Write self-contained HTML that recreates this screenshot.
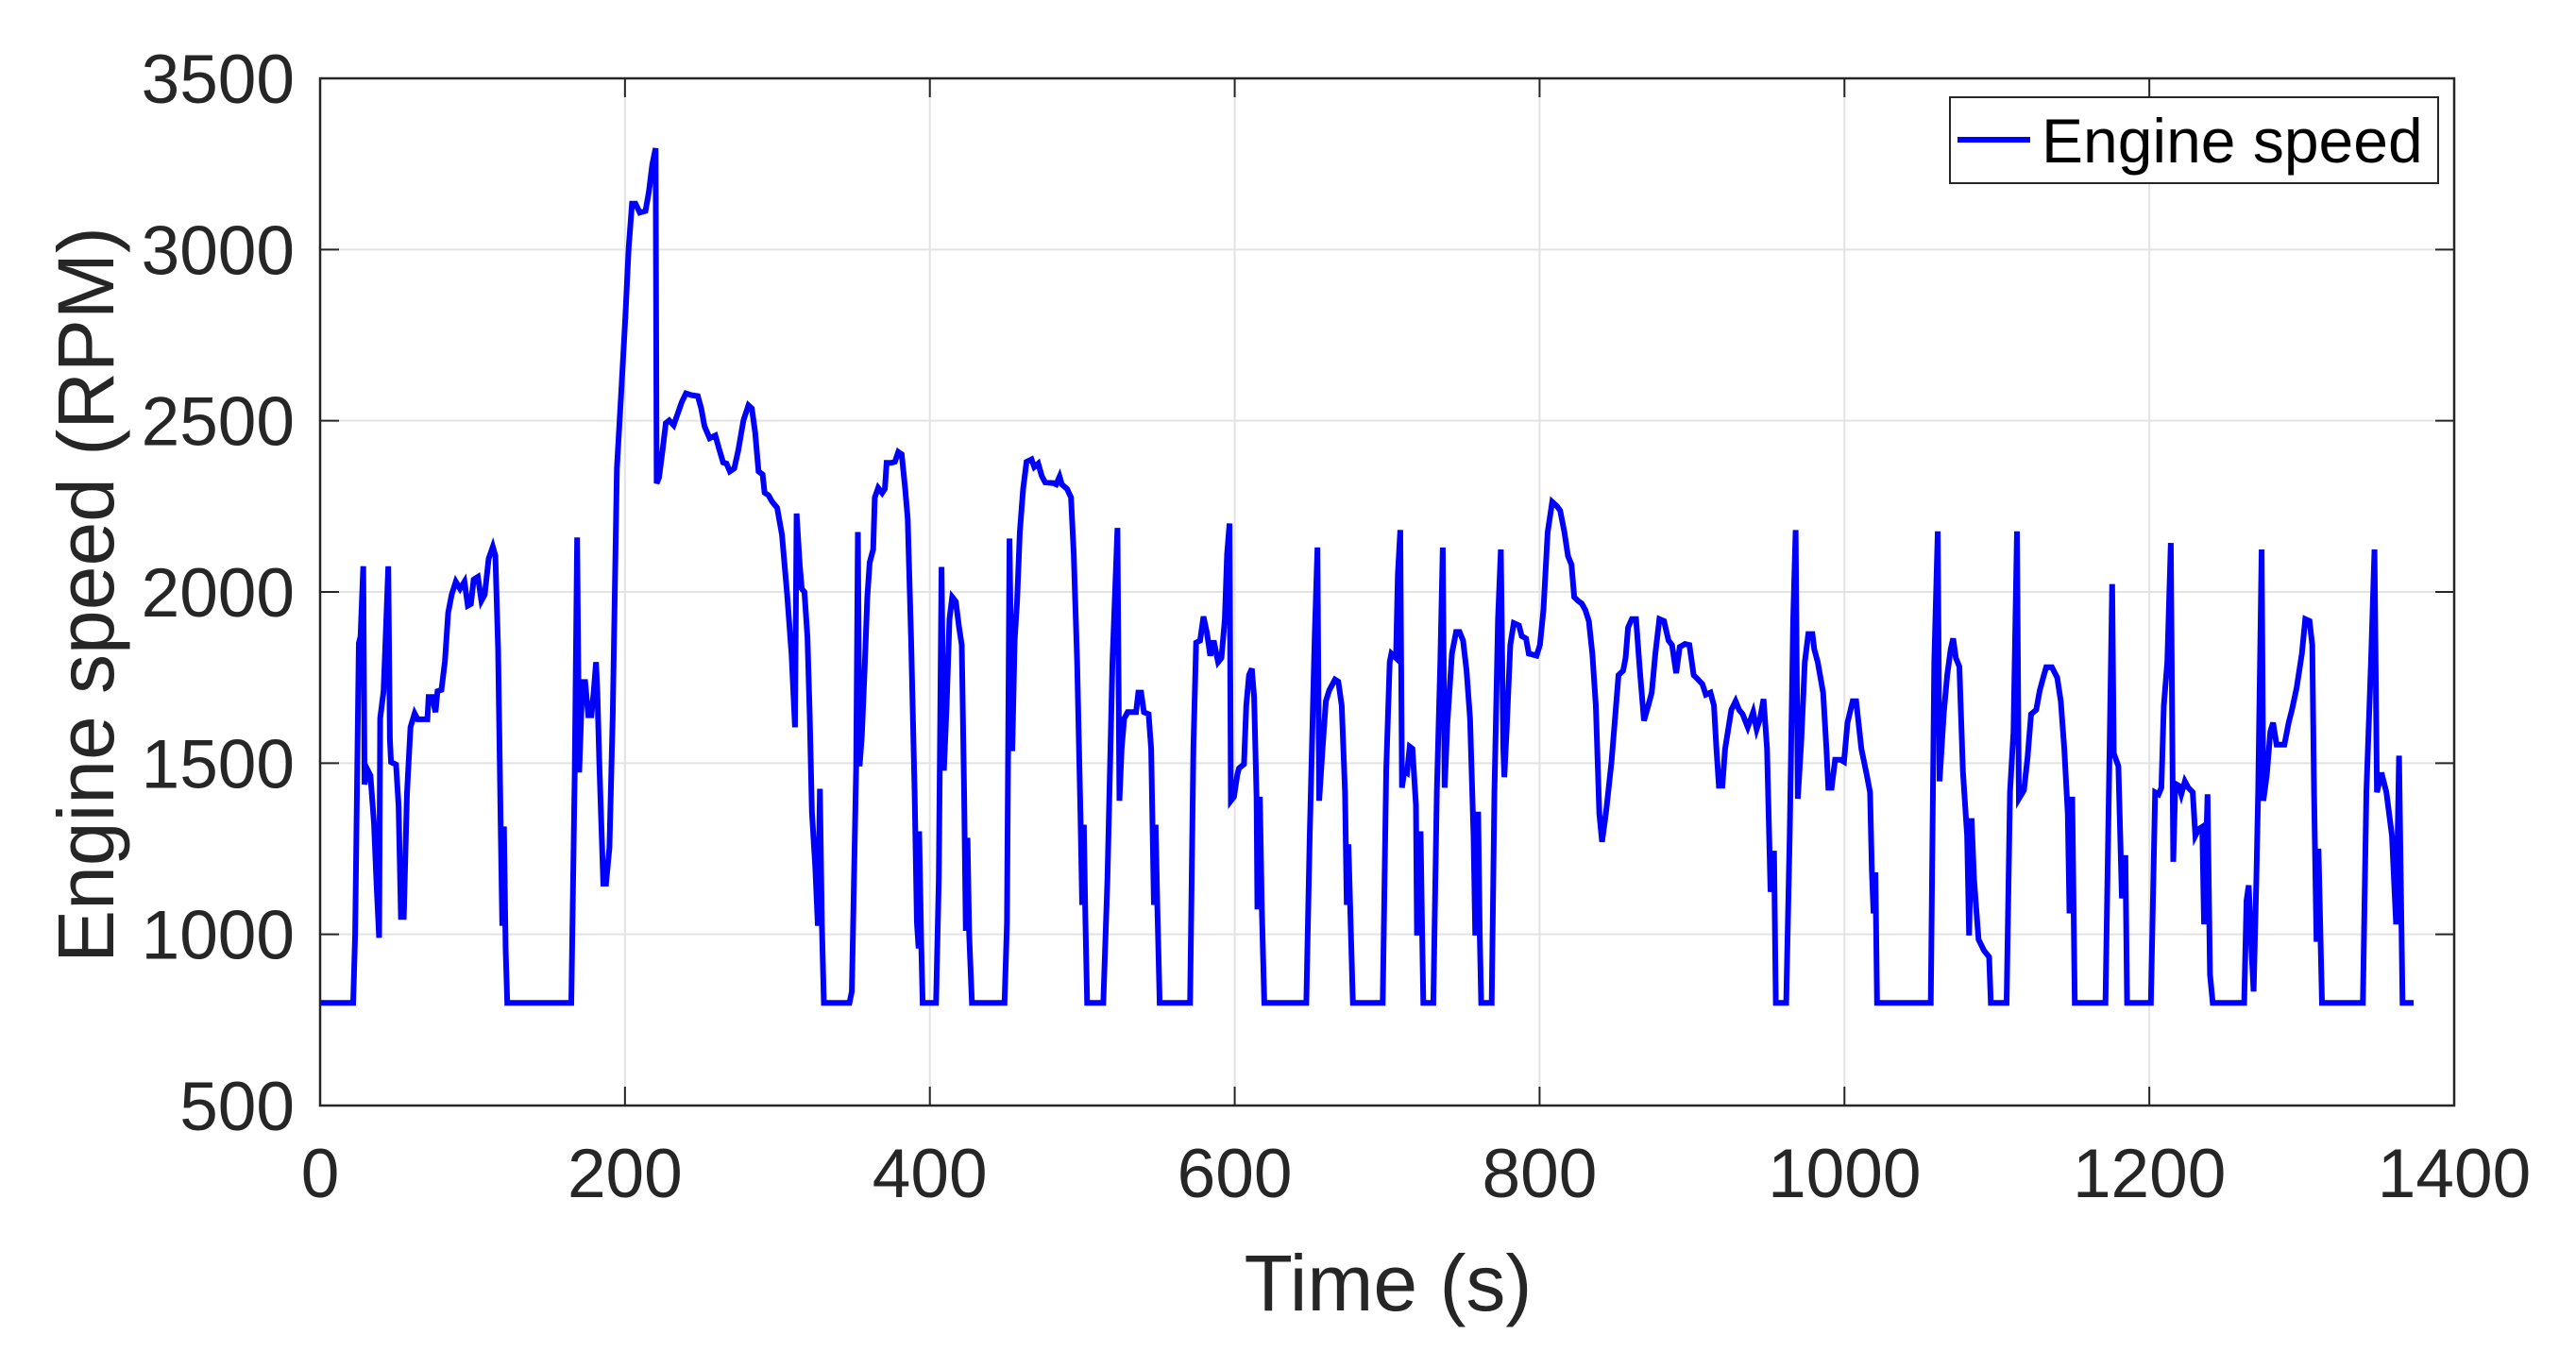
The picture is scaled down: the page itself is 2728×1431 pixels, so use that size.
<!DOCTYPE html>
<html><head><meta charset="utf-8"><style>
html,body{margin:0;padding:0;background:#fff;}
svg{display:block;font-family:"Liberation Sans",Arial,sans-serif;}
</style></head><body>
<svg id="chart" width="2728" height="1431" viewBox="0 0 2728 1431" xmlns="http://www.w3.org/2000/svg">
<rect x="0" y="0" width="2728" height="1431" fill="#fff"/>
<g id="grid"></g>
<g id="series"></g>
<g id="axes"></g>
<text x="0" y="0" transform="translate(120,630) rotate(-90)" text-anchor="middle" font-size="84" fill="#262626">Engine speed (RPM)</text>
<text x="1470" y="1388" text-anchor="middle" font-size="84" fill="#262626">Time (s)</text>
<g>
<rect x="2065" y="103" width="517" height="91" fill="#fff" stroke="#262626" stroke-width="2"/>
<line x1="2073" y1="148" x2="2150" y2="148" stroke="#0000ff" stroke-width="6"/>
<text x="2162" y="172" font-size="66" fill="#000">Engine speed</text>
</g>
</svg>
<script>
const xTicks = [0,200,400,600,800,1000,1200,1400];
const yTicks = [500,1000,1500,2000,2500,3000,3500];
const times = [0,21.7,23,25.4,26.5,28.3,29.2,31,33,35.4,37,38.7,39.4,41.6,43,44.7,45.8,46.5,49.8,51.5,53,54.9,57,59.3,62,64,70.4,71.2,73.5,75.7,77,79.6,81.9,84,86.3,89,91.8,94.7,96.9,98.9,100.7,103.5,105.8,108,110.6,113.3,115,116.8,118.4,119.5,120.6,121.7,122.8,
164.8,167,168.6,170,172,173.9,175.9,178,179.5,181,181.9,183.2,185.8,187.6,189.8,192,194.7,197.6,200.2,202.4,204.6,206.9,209.7,213.5,215.7,217.9,220.1,220.8,222.3,224.6,226.8,229,231.9,234.5,237.2,240,243.4,247.8,250,252.2,255.5,259.3,261.5,264.4,266.6,268.8,271.7,274.3,277.7,281,283.2,285.4,287.6,290.3,291.6,294.2,296.5,299.8,303,306.4,309.3,311.5,312.6,314.6,316,317.7,319.7,321.2,322.6,324.8,326.5,327.9,329.2,330.5,
347.3,348.8,351.7,352.8,353.9,355.4,357.2,359,360.5,362.8,363.9,366.1,368.7,370.5,371.6,374.5,377.1,379.3,381.5,383.8,385.5,387.7,390,391.5,392.6,393,394.4,395.3,
404.1,405.9,407.7,409.2,411,412.9,414.7,417,419.2,420.9,422.5,423.6,424.7,425.8,427.6,
449,450.6,452.3,454.1,455.6,457.2,459,461.2,463.4,466.7,468.5,471.1,473.4,475.6,481.1,482.9,485.1,486.6,490,492.6,494.4,496.6,498.8,499.9,501,502.1,503.2,
513.8,516.5,519.8,523.1,524.4,525.8,527.5,529.8,535.3,536.8,538.6,540.4,543.5,545.2,547,548.1,549.2,550.8,
570.7,572.9,574.7,577.3,579.5,581.7,584,586.2,589.1,591.3,593.5,595,596.6,597.5,599.5,601.7,602.8,606.1,607.6,609.4,611.2,612.7,614.3,614.9,616.5,617.8,619.4,
647,649.2,652.5,654.3,655.4,657.6,659.8,662,665.8,668,670.2,672.4,673.5,674.6,675.7,677.5,
697.1,699.4,701.7,702.8,705.8,707,708.6,709.7,711.3,713.1,714.8,716.6,718.9,719.6,721.9,723,723.7,
730.3,732.6,734.9,736.5,737.7,739.5,742.5,745.2,747.5,749.8,752.1,754.4,756.7,757.8,759.7,760.8,761.7,
768.6,770.4,772.7,774.6,776.2,776.9,778.5,780.8,783.1,786.5,788.3,791.1,792.9,798,800.2,802.5,805.3,808.3,811.3,813.5,816.3,818.6,820.9,822.7,825,827.7,830,832.3,834.6,836.9,839.2,841,843.8,847.2,849.5,851.8,854.8,856.4,858,860.5,863.3,865.6,868.5,871.3,873.6,875.9,878.6,881.6,884.6,886.9,889.6,891.9,895.4,898.3,901.1,903.4,906.8,909.1,912.1,914.4,916,917.6,919.9,921.7,923.5,925.8,928.6,930.9,933.2,936.6,940.1,942.4,944.6,946.9,949.2,951.5,953.8,955,
961.8,964.1,966.4,968,969.4,971.7,974,976.3,979,980.2,982.5,986,988.2,989.4,991.6,993.9,997.4,999.7,1002,1005.4,1007.7,1011.1,1014.6,1016.8,1018,1019.1,1020.3,1021.4,
1056.6,1058.9,1061.2,1062.4,1065.1,1067.4,1069.7,1071.3,1073.1,1075.4,1077.7,1080.5,1081.8,1083.4,1085,1088,1091.5,1094.9,1096,
1106.4,1108.6,1110.9,1113.2,1114.4,1117.8,1120.1,1122.4,1125.8,1128.1,1130.4,1132.3,1136.1,1139.6,1141.9,1144.2,1146.5,1147.6,1149.4,1151.1,
1171.2,1174,1175.6,1176.7,1179.7,1182,1184.3,1185.4,
1201,1203.8,1206.1,1207.9,1209.5,1211.8,1214.1,1215.7,1217.1,1219.4,1221,1223.3,1225.6,1228.5,1230.2,1232.4,1234.7,1235.9,1238.2,1239.8,1241.6,
1262.2,1263.8,1265.2,1266.8,1268.4,1270.2,1271.4,1273.7,1274.8,1277.1,1279.4,1281.2,1283.5,1288.6,1291.4,1293.6,1296.6,1300.1,1302.3,1305.1,1306.9,1308.1,1309.7,1311,1313.3,
1340.1,1342.4,1345.4,1347.7,1349.3,1352.3,1355.5,1359.2,1361.9,1363.8,1366.1,1373.4];
const rpm = [800,800,1000,1850,1870,2075,1438,1482,1464,1323,1150,990,1631,1710,1868,2075,1570,1503,1496,1376,1051,1051,1411,1605,1645,1628,1628,1693,1693,1649,1710,1714,1798,1939,1992,2030,2009,2030,1960,1965,2036,2044,1974,1992,2097,2132,2106,1833,1341,1025,1315,954,800,
800,1464,2159,1473,1737,1737,1640,1640,1710,1795,1710,1499,1148,1148,1253,1640,2361,2589,2800,3002,3134,3134,3108,3113,3169,3249,3296,2317,2334,2413,2493,2501,2487,2519,2554,2580,2575,2572,2536,2484,2449,2457,2422,2378,2375,2352,2361,2413,2501,2545,2536,2466,2352,2343,2290,2282,2264,2246,2167,1992,1816,1605,2229,2080,2009,2000,1868,1640,1358,1200,1025,1425,1025,800,
800,833,1491,2175,1491,1580,1770,1985,2086,2124,2276,2304,2289,2301,2377,2377,2380,2409,2402,2301,2213,1858,1415,1035,959,1301,959,800,
800,1162,2073,1478,1668,1921,1985,1972,1896,1845,1415,1010,1282,997,800,
800,1035,2156,1535,1858,1972,2175,2301,2380,2387,2365,2375,2339,2320,2318,2314,2337,2314,2301,2276,2111,1795,1352,1086,1320,1035,800,
800,1162,1795,2187,1390,1542,1630,1649,1649,1706,1706,1649,1643,1542,1086,1320,1086,800,
800,1542,1852,1858,1928,1883,1814,1858,1795,1807,1921,2111,2200,1390,1402,1466,1485,1497,1668,1757,1776,1694,1402,1073,1402,1073,800,
800,1288,1871,2130,1390,1542,1681,1713,1744,1738,1668,1415,1086,1263,1086,800,
800,1478,1795,1820,1807,2048,2181,1428,1478,1472,1548,1542,1377,997,1301,997,800,
800,1415,1795,2130,1428,1618,1820,1883,1883,1858,1770,1630,1288,997,1358,997,800,
800,1415,1921,2124,1542,1459,1605,1845,1909,1902,1871,1864,1820,1814,1845,1947,2175,2263,2251,2238,2175,2105,2080,1985,1975,1966,1947,1915,1820,1668,1352,1270,1364,1504,1630,1757,1770,1807,1896,1921,1921,1782,1624,1668,1706,1820,1921,1915,1858,1845,1763,1839,1848,1845,1757,1747,1731,1700,1706,1668,1542,1434,1434,1542,1592,1656,1681,1656,1643,1605,1649,1599,1630,1687,1542,1124,1244,800,
800,1288,1921,2181,1396,1567,1795,1877,1877,1833,1795,1706,1542,1428,1428,1510,1510,1504,1618,1681,1681,1542,1466,1415,1187,1061,1181,800,
800,1795,2177,1447,1643,1757,1833,1864,1807,1782,1478,1288,997,1339,1162,985,953,934,800,
800,1415,1592,2177,1396,1421,1516,1643,1656,1712,1750,1780,1780,1750,1681,1542,1352,1061,1402,800,
800,1567,2023,1529,1491,1105,1231,800,
800,1415,1409,1428,1668,1795,2143,1212,1440,1434,1409,1447,1428,1415,1288,1307,1314,1029,1409,883,800,
800,1099,1143,972,833,1162,1415,2124,1390,1466,1592,1618,1554,1554,1618,1656,1719,1820,1921,1915,1845,1415,978,1250,800,
800,1415,1795,2124,1415,1472,1415,1288,1029,1522,800,800];

const L = 339, R = 2599, T = 83, B = 1171;
const xMin = 0, xMax = 1400, yMin = 500, yMax = 3500;
function sx(v){ return L + (v - xMin) / (xMax - xMin) * (R - L); }
function sy(v){ return B - (v - yMin) / (yMax - yMin) * (B - T); }
const NS = "http://www.w3.org/2000/svg";
function mk(tag, attrs){ const e = document.createElementNS(NS, tag); for (const k in attrs) e.setAttribute(k, attrs[k]); return e; }

const grid = document.getElementById('grid');
const axes = document.getElementById('axes');
const series = document.getElementById('series');

xTicks.forEach(v => {
  const x = sx(v);
  if (v > xMin && v < xMax) {
    const g = mk('line', {x1:x, y1:T, x2:x, y2:B, stroke:'#e3e3e3', 'stroke-width':2});
    
    
    grid.appendChild(g);
  }
  const t1 = mk('line', {x1:x, y1:B, x2:x, y2:B-20, stroke:'#262626', 'stroke-width':2});
  
  
  axes.appendChild(t1);
  const t2 = mk('line', {x1:x, y1:T, x2:x, y2:T+20, stroke:'#262626', 'stroke-width':2});
  
  
  axes.appendChild(t2);
  const lab = mk('text', {x:x, y:1268, 'text-anchor':'middle', 'font-size':73, fill:'#262626'});
  
  
  lab.textContent = v;
  axes.appendChild(lab);
});

yTicks.forEach(v => {
  const y = sy(v);
  if (v > yMin && v < yMax) {
    const g = mk('line', {x1:L, y1:y, x2:R, y2:y, stroke:'#e3e3e3', 'stroke-width':2});
    
    
    grid.appendChild(g);
  }
  const t1 = mk('line', {x1:L, y1:y, x2:L+20, y2:y, stroke:'#262626', 'stroke-width':2});
  
  
  axes.appendChild(t1);
  const t2 = mk('line', {x1:R, y1:y, x2:R-20, y2:y, stroke:'#262626', 'stroke-width':2});
  
  
  axes.appendChild(t2);
  const lab = mk('text', {x:312, y:y+26, 'text-anchor':'end', 'font-size':73, fill:'#262626'});
  
  
  lab.textContent = v;
  axes.appendChild(lab);
});

const frame = mk('rect', {x:L, y:T, width:R-L, height:B-T, fill:'none', stroke:'#262626', 'stroke-width':2.5});


axes.appendChild(frame);

let d = '';
times.forEach((t, i) => { d += (i ? 'L' : 'M') + sx(t).toFixed(1) + ',' + sy(rpm[i]).toFixed(1); });
const path = mk('path', {d:d, fill:'none', stroke:'#0000ff', 'stroke-width':6, 'stroke-linejoin':'miter', 'stroke-miterlimit':4});


series.appendChild(path);
</script>
</body></html>
